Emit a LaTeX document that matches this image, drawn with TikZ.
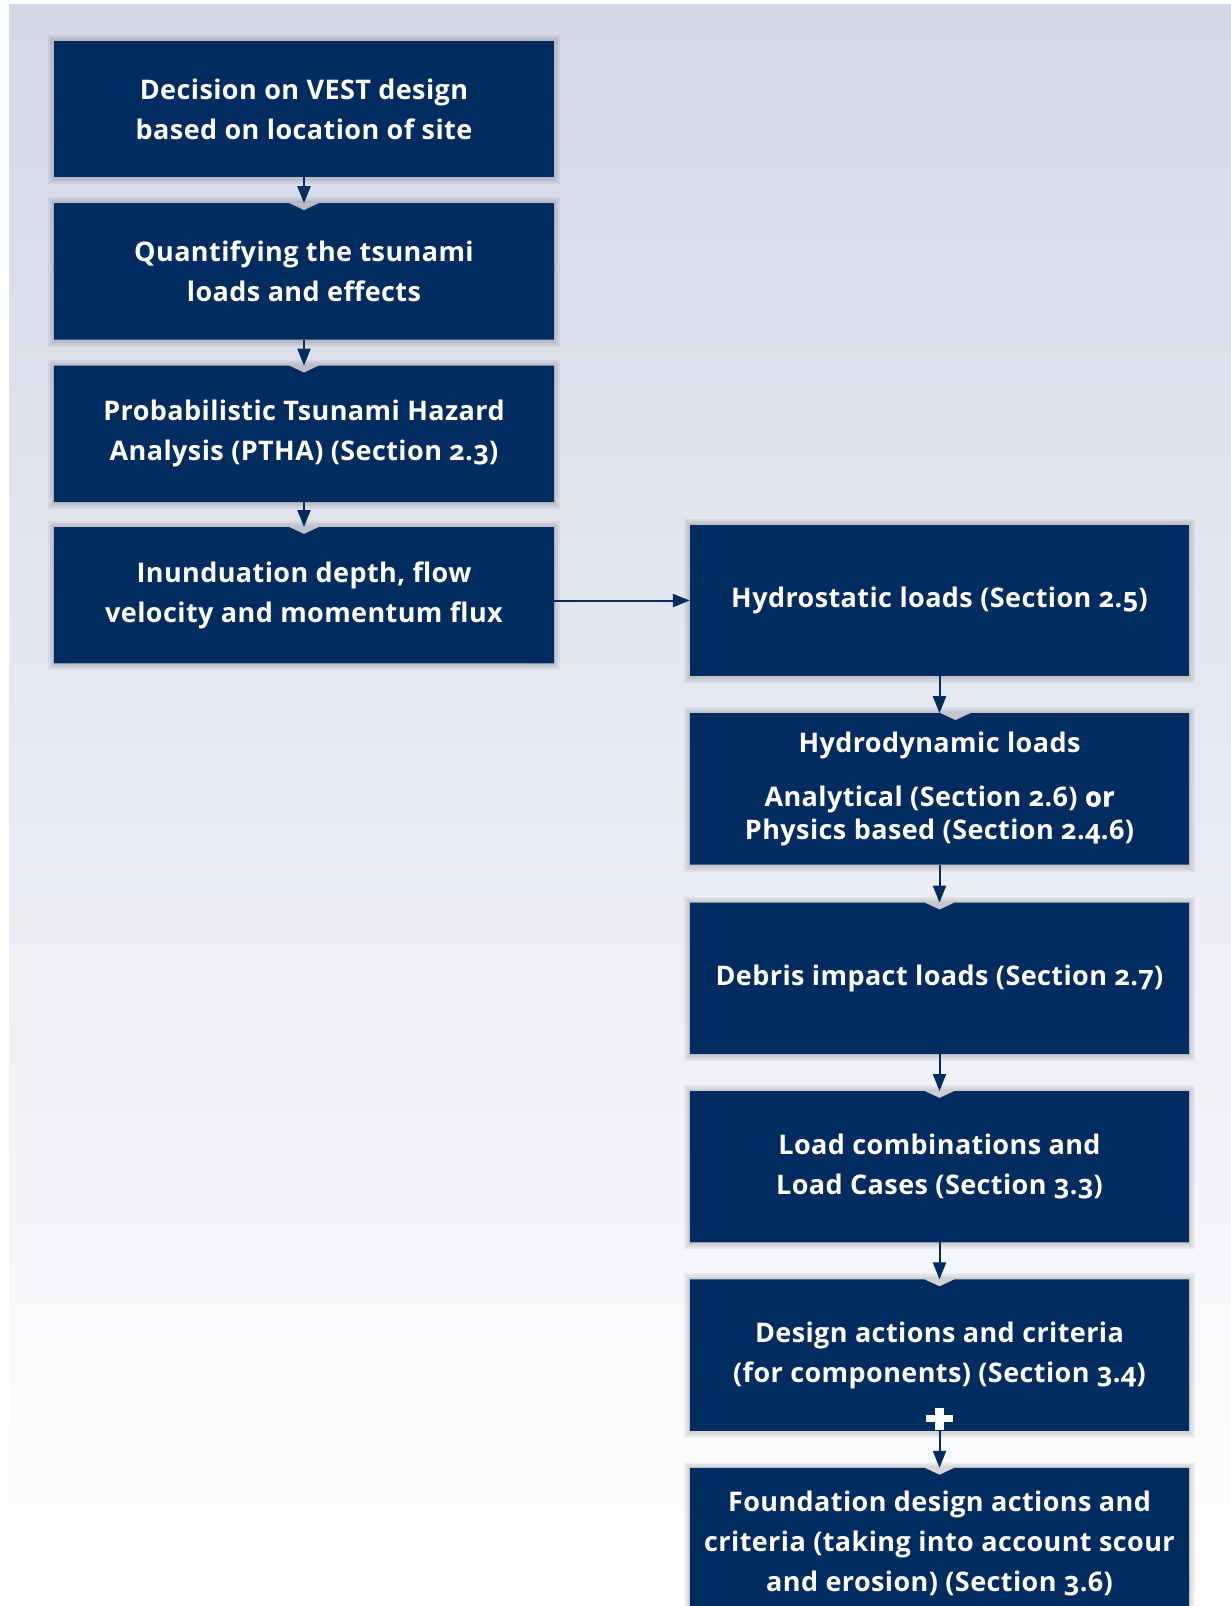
\documentclass[tikz,border=0pt]{standalone}
\usepackage{fontspec}
\setmainfont{Open Sans}[Numbers=OldStyle, LetterSpace=1.5]
\newfontfamily\orfont{Open Sans}[Numbers=OldStyle, LetterSpace=1.5, FakeBold=1.5]
\usetikzlibrary{positioning,arrows.meta}
\definecolor{vestblue}{HTML}{002C5F}
\definecolor{bgtop}{HTML}{D3D7E6}
\newcommand{\boxfont}{\fontsize{27}{40}\selectfont\bfseries}
\tikzstyle{stepbox}=[minimum width=500pt, minimum height=136pt, inner sep=0pt, align=center, text=white, font=\boxfont]
\tikzstyle{loadbox}=[stepbox, minimum width=499pt, minimum height=151pt]
\tikzstyle{flow}=[vestblue, line width=2pt, -{Triangle[length=17pt,width=13pt]}]
\pgfdeclarelayer{background}
\pgfsetlayers{background,main}
% soft shadow round a box
\newcommand{\boxshadow}[1]{%
  \foreach \s in {6,4,2}
    \fill[black, opacity=.05] ([shift={(-\s pt,\s pt)}]#1.north west) rectangle ([shift={(\s pt,-\s pt-1pt)}]#1.south east);}
% dark box with a small notch in its top edge
\newcommand{\notchfill}[2]{%
  \boxshadow{#1}
  \fill[vestblue] (#1.north west) -- ([xshift=#2-15pt]#1.north) -- ([xshift=#2, yshift=-7pt]#1.north)
    -- ([xshift=#2+15pt]#1.north) -- (#1.north east) -- (#1.south east) -- (#1.south west) -- cycle;}

\begin{document}
\begin{tikzpicture}[x=1pt, y=1pt]
\useasboundingbox (0,0) rectangle (1231,-1606);

\node[stepbox] at (304,-109) (b1) {Decision on VEST design\\based on location of site};
\node[stepbox, below=26pt of b1] (b2) {Quantifying the tsunami\\loads and effects};
\node[stepbox, below=26pt of b2] (b3) {Probabilistic Tsunami Hazard\\Analysis (PTHA) (Section 2.3)};
\node[stepbox, below=25pt of b3] (b4) {Inunduation depth, flow\\velocity and momentum flux};

\node[loadbox] at (939.5,-600.5) (r1) {Hydrostatic loads (Section 2.5)};
\node[loadbox, below=37pt of r1] (r2) {Hydrodynamic loads\\[14pt]Analytical (Section 2.6) {\orfont\bfseries or}\\[-7pt]Physics based (Section 2.4.6)};
\node[loadbox, below=38pt of r2] (r3) {Debris impact loads (Section 2.7)};
\node[loadbox, below=37pt of r3] (r4) {Load combinations and\\Load Cases (Section 3.3)};
\node[loadbox, below=37pt of r4] (r5) {Design actions and criteria\\(for components) (Section 3.4)};
\node[loadbox, below=37pt of r5] (r6) {Foundation design actions and\\criteria (taking into account scour\\and erosion) (Section 3.6)};

\begin{pgfonlayer}{background}
\fill[white] (0,0) rectangle (1231,-1606);
\shade[top color=bgtop, bottom color=white] (9,-4) rectangle (1231,-1606);
\foreach \n in {b1,r1} {
  \boxshadow{\n}
  \fill[vestblue] (\n.north west) rectangle (\n.south east);}
\foreach \n in {b2,b3,b4,r3,r4,r5,r6} {\notchfill{\n}{0pt}}
\notchfill{r2}{16pt}
\end{pgfonlayer}

\draw[flow] (b1) -- (b2);
\draw[flow] (b2) -- (b3);
\draw[flow] (b3) -- (b4);
\draw[flow] (b4.east |- r1.west) -- (r1.west);
\draw[flow] (r1) -- (r2);
\draw[flow] (r2) -- (r3);
\draw[flow] (r3) -- (r4);
\draw[flow] (r4) -- (r5);
\draw[flow] (r5) -- (r6);

% plus sign between the last two boxes
\coordinate[above=12pt of r5.south] (plus);
\fill[white] ([shift={(-4.5pt,-11pt)}]plus) rectangle ([shift={(4.5pt,11pt)}]plus);
\fill[white] ([shift={(-13.5pt,-3.5pt)}]plus) rectangle ([shift={(13.5pt,3.5pt)}]plus);

\end{tikzpicture}
\end{document}
